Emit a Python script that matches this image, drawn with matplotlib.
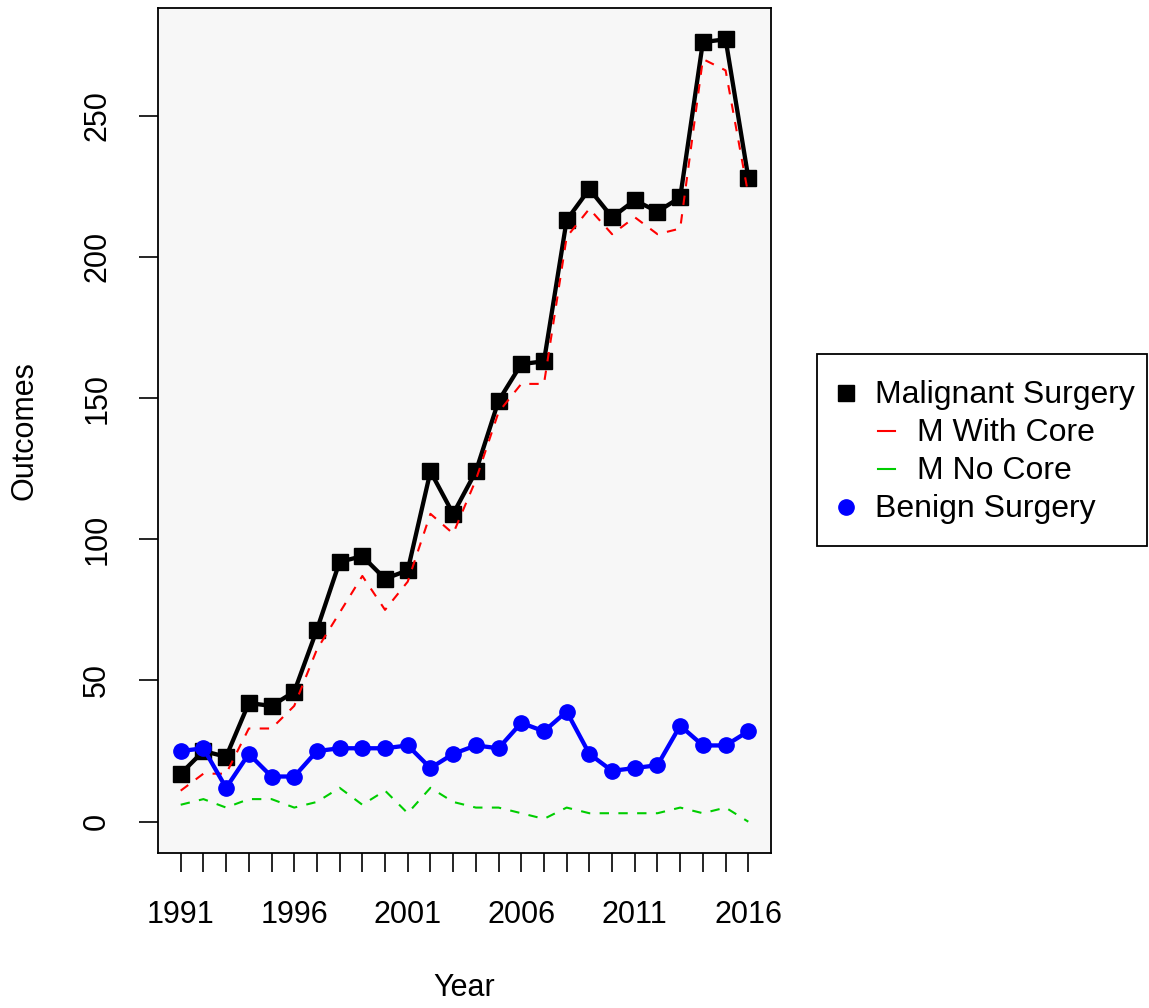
import matplotlib.pyplot as plt
from matplotlib.lines import Line2D
from matplotlib.patches import Rectangle

plt.rcParams['font.family'] = ['Liberation Sans', 'DejaVu Sans']

# Years and counts
years = list(range(1991, 2017))
malignant = [17, 25, 23, 42, 41, 46, 68, 92, 94, 86, 89, 124, 109, 124, 149,
             162, 163, 213, 224, 214, 220, 216, 221, 276, 277, 228]
with_core = [11, 17, 17, 33, 33, 41, 61, 74, 87, 75, 85, 109, 102, 121, 145,
             155, 155, 207, 217, 208, 214, 208, 210, 270, 266, 222]
no_core = [6, 8, 5, 8, 8, 5, 7, 12, 6, 11, 3, 12, 7, 5, 5,
           3, 1, 5, 3, 3, 3, 3, 5, 3, 5, 0]
benign = [25, 26, 12, 24, 16, 16, 25, 26, 26, 26, 27, 19, 24, 27, 26,
          35, 32, 39, 24, 18, 19, 20, 34, 27, 27, 32]
year_labels = [1991, 1996, 2001, 2006, 2011, 2016]
y_ticks = [0, 50, 100, 150, 200, 250]

W, H = 1149, 1008
fig = plt.figure(figsize=(W / 100, H / 100), dpi=100)
ax = fig.add_axes([158 / W, 1 - 853 / H, (771 - 158) / W, (853 - 8) / H])
ax.set_facecolor('#f7f7f7')

green = '#00cd00'
ax.plot(years, malignant, color='black', lw=3.1, marker='s', ms=11)
ax.plot(years, with_core, color='red', lw=1.5, ls=(0, (4.5, 4.5)))
ax.plot(years, no_core, color=green, lw=1.5, ls=(0, (4.5, 4.5)))
ax.plot(years, benign, color='blue', lw=3.1, marker='o', ms=11)

# R style default 4% padding
ax.set_xlim(1990, 2017)
ax.set_ylim(-11.08, 288.08)

ax.set_xticks(years)
ax.set_xticklabels([str(y) if y in year_labels else '' for y in years])
ax.set_yticks(y_ticks)
ax.set_yticklabels([str(v) for v in y_ticks], rotation=90, va='center')
ax.tick_params(direction='out', length=14, width=1.2, labelsize=22)
ax.tick_params(axis='x', pad=19.5)
ax.tick_params(axis='y', pad=19)
for s in ax.spines.values():
    s.set_linewidth(1.3)

ax.set_xlabel('Year', fontsize=22, va='center')
ax.xaxis.set_label_coords(0.5, -(988 - 853) / 845)
ax.set_ylabel('Outcomes', fontsize=22, va='center')
ax.yaxis.set_label_coords(-(158 - 24) / 613, 0.5)

# legend drawn by hand in figure pixels
def fx(x):
    return x / W

def fy(y):
    return 1 - y / H

fig.patches.append(Rectangle((fx(817), fy(546)), fx(1147) - fx(817), fy(354) - fy(546),
                             transform=fig.transFigure, fill=False, lw=1.3,
                             edgecolor='black'))
rows = [
    ('Malignant Surgery', 393, 's', 'black', None),
    ('M With Core', 431, None, 'red', '-'),
    ('M No Core', 469, None, green, '-'),
    ('Benign Surgery', 507, 'o', 'blue', None),
]
for label, yy, mk, col, ls in rows:
    if mk:
        fig.add_artist(Line2D([fx(846)], [fy(yy)], marker=mk, ms=11, color=col,
                              ls='none', transform=fig.transFigure))
        tx = 875
    else:
        fig.add_artist(Line2D([fx(878), fx(895)], [fy(yy), fy(yy)], color=col,
                              lw=1.5, transform=fig.transFigure))
        tx = 917
    fig.text(fx(tx), fy(yy + 2), label, fontsize=23, ha='left', va='center')

fig.savefig('out.png', dpi=100)
